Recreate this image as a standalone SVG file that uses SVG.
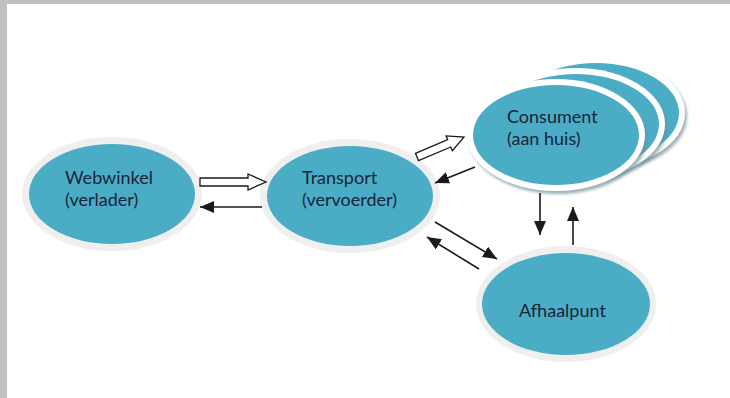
<svg xmlns="http://www.w3.org/2000/svg" width="730" height="398" viewBox="0 0 730 398">
<style>
.ring{fill:#efefef}
.blue{fill:#4bacc6}
.wring{fill:#ffffff;filter:url(#sh)}
.lbl{font-family:Lato,"Liberation Sans",sans-serif;font-size:18px;fill:#18243a}
.ln{stroke:#1a1a1a;stroke-width:1.6;fill:none;marker-end:url(#ah)}
.hollow{fill:#ffffff;stroke:#1a1a1a;stroke-width:1.3;stroke-linejoin:miter}
</style>
<defs>
<marker id="ah" markerUnits="userSpaceOnUse" markerWidth="15" markerHeight="12" refX="14" refY="6" orient="auto">
<path d="M0,0 L14,6 L0,12 z" fill="#1a1a1a"/>
</marker>
<filter id="sh" x="-10%" y="-10%" width="125%" height="130%">
<feDropShadow dx="2" dy="3" stdDeviation="1.5" flood-color="#6f8f99" flood-opacity="0.7"/>
</filter>
</defs>
<rect x="0" y="0" width="730" height="398" fill="#ffffff"/>
<rect x="0" y="0" width="730" height="4" fill="#c0c0c0"/>
<rect x="0" y="0" width="7" height="398" fill="#c0c0c0"/>

<g id="webwinkel">
<ellipse class="ring" cx="112" cy="194" rx="90" ry="57"/>
<ellipse class="blue" cx="112" cy="194" rx="83" ry="50"/>
<text class="lbl" x="65" y="184">Webwinkel</text>
<text class="lbl" x="65" y="206">(verlader)</text>
</g>

<g id="transport">
<ellipse class="ring" cx="350" cy="196" rx="90" ry="57"/>
<ellipse class="blue" cx="350" cy="196" rx="83" ry="50"/>
<text class="lbl" x="302" y="184">Transport</text>
<text class="lbl" x="302" y="206">(vervoerder)</text>
</g>

<g id="consument">
<ellipse class="wring" cx="596" cy="113" rx="89" ry="56"/>
<ellipse class="blue" cx="596" cy="113" rx="83" ry="50"/>
<ellipse class="wring" cx="576" cy="124" rx="89" ry="56"/>
<ellipse class="blue" cx="576" cy="124" rx="83" ry="50"/>
<ellipse class="wring" cx="556" cy="135" rx="89" ry="56"/>
<ellipse class="blue" cx="556" cy="135" rx="83" ry="50"/>
<text class="lbl" x="507" y="123">Consument</text>
<text class="lbl" x="507" y="145">(aan huis)</text>
</g>

<g id="afhaalpunt">
<ellipse class="ring" cx="566" cy="304" rx="90" ry="58"/>
<ellipse class="blue" cx="566" cy="304" rx="84" ry="51"/>
<text class="lbl" x="519" y="317">Afhaalpunt</text>
</g>

<g id="connectors">
<polygon class="hollow" points="200,178 248,178 248,174 266,182 248,190 248,186 200,186"/>
<line class="ln" x1="262" y1="207" x2="200" y2="207"/>
<polygon class="hollow" transform="translate(417,157) rotate(-23)" points="0,-4 35,-4 35,-8 51,0 35,8 35,4 0,4"/>
<line class="ln" x1="475" y1="167" x2="435" y2="183"/>
<line class="ln" x1="435" y1="222" x2="497" y2="259"/>
<line class="ln" x1="479" y1="269" x2="427" y2="237"/>
<line class="ln" x1="540" y1="193" x2="540" y2="235"/>
<line class="ln" x1="573" y1="245" x2="573" y2="207"/>
</g>
</svg>
